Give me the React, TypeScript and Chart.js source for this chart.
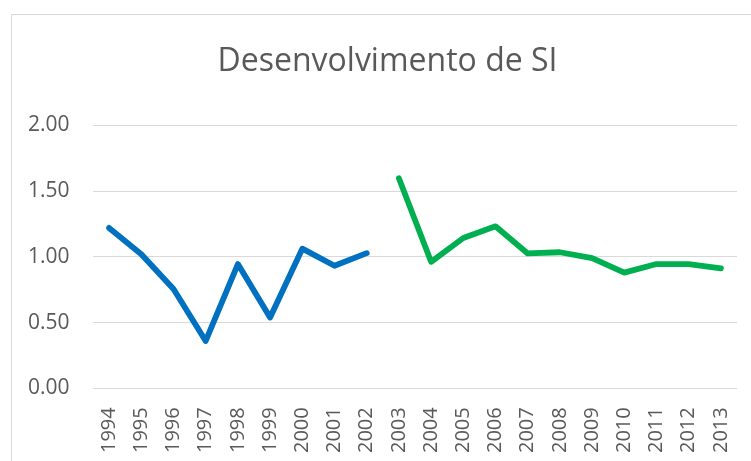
import { useEffect, useRef } from 'react';
import { Chart, registerables } from 'chart.js';

Chart.register(...registerables);

const years = ['1994', '1995', '1996', '1997', '1998', '1999', '2000', '2001', '2002', '2003', '2004', '2005', '2006', '2007', '2008', '2009', '2010', '2011', '2012', '2013'];
const seriesBlue = [1.22, 1.02, 0.755, 0.36, 0.945, 0.538, 1.062, 0.932, 1.028, null, null, null, null, null, null, null, null, null, null, null];
const seriesGreen = [null, null, null, null, null, null, null, null, null, 1.598, 0.962, 1.143, 1.232, 1.026, 1.035, 0.99, 0.88, 0.945, 0.945, 0.912];
const yMin = 0;
const yMax = 2;
const yStep = 0.5;
const title = 'Desenvolvimento de SI';

export default function App() {
  const ref = useRef<HTMLCanvasElement | null>(null);

  useEffect(() => {
    document.body.style.margin = '0';
    document.body.style.overflow = 'hidden';
    const canvas = ref.current;
    if (!canvas) return;
    const font = "'Open Sans', sans-serif";
    const chart = new Chart(canvas, {
      type: 'line',
      data: {
        labels: years,
        datasets: [
          {
            data: seriesBlue,
            borderColor: '#0070C0',
            backgroundColor: '#0070C0',
            borderWidth: 5.8,
            pointRadius: 0,
            pointHoverRadius: 0,
            borderCapStyle: 'round',
            borderJoinStyle: 'round',
            tension: 0,
            spanGaps: false,
          },
          {
            data: seriesGreen,
            borderColor: '#00B050',
            backgroundColor: '#00B050',
            borderWidth: 5.8,
            pointRadius: 0,
            pointHoverRadius: 0,
            borderCapStyle: 'round',
            borderJoinStyle: 'round',
            tension: 0,
            spanGaps: false,
          },
        ],
      },
      options: {
        animation: false,
        responsive: true,
        maintainAspectRatio: false,
        layout: { padding: { left: 26, right: 28, top: 0, bottom: 3 } },
        plugins: {
          legend: { display: false },
          tooltip: { enabled: false },
          title: {
            display: true,
            text: title,
            color: '#595959',
            font: { family: font, size: 32, weight: 'normal' },
            padding: { top: 28, bottom: 44 },
          },
        },
        scales: {
          x: {
            offset: true,
            grid: { display: false, drawTicks: false },
            border: { display: false },
            ticks: {
              color: '#595959',
              font: { family: font, size: 20 },
              minRotation: 90,
              maxRotation: 90,
              padding: 19,
              autoSkip: false,
            },
          },
          y: {
            min: yMin,
            max: yMax,
            grid: { color: '#d9d9d9', lineWidth: 1, drawTicks: false },
            border: { display: false },
            afterFit: (scale: any) => {
              scale.width = 55;
            },
            ticks: {
              stepSize: yStep,
              color: '#595959',
              font: { family: font, size: 21 },
              mirror: true,
              padding: -65,
              callback: (v: any) => Number(v).toFixed(2),
            },
          },
        },
      },
    });
    return () => chart.destroy();
  }, []);

  return (
    <div style={{ position: 'fixed', left: 0, top: 0, width: 751, height: 461, overflow: 'hidden', background: '#fff' }}>
      <div
        style={{
          position: 'absolute',
          left: 11,
          top: 14,
          width: 753,
          height: 460,
          border: '1px solid #d9d9d9',
        }}
      >
        <canvas ref={ref} />
      </div>
    </div>
  );
}
